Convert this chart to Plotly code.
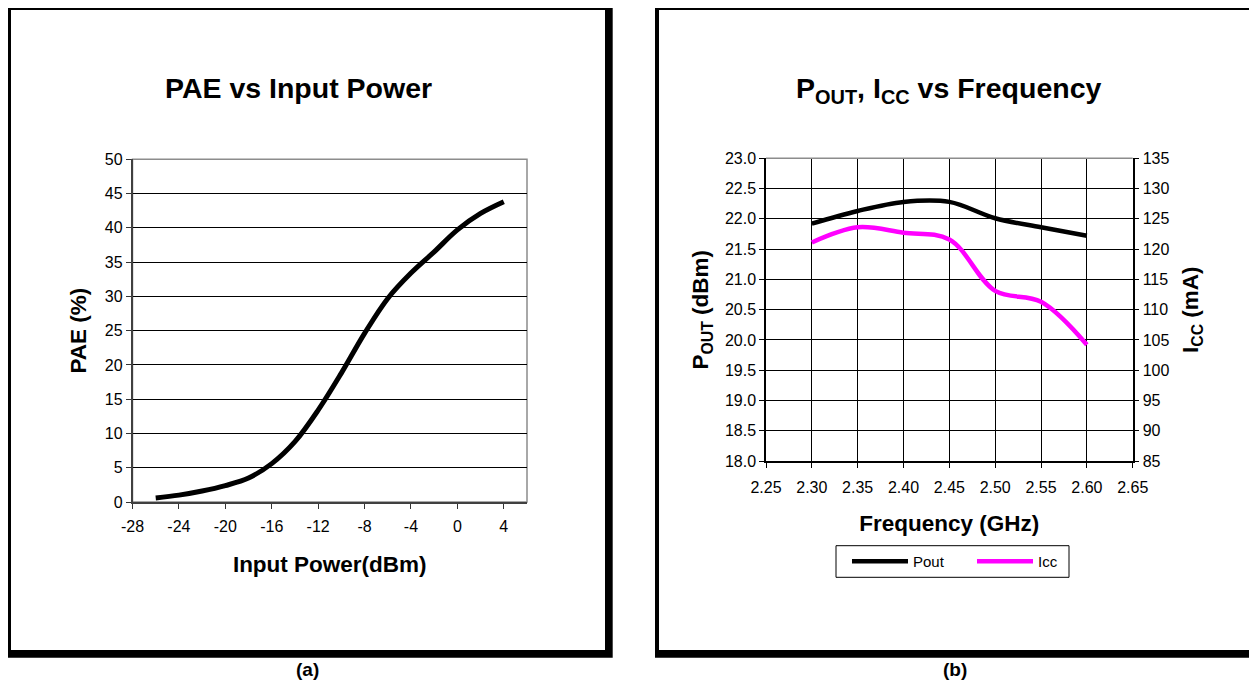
import plotly.graph_objects as go

# ---------------- data ----------------
pin_dbm = [-26, -24, -22, -20, -18, -16, -14, -12, -10, -8, -6, -4, -2, 0, 2, 4]
pae_pct = [0.6, 1.0, 1.6, 2.4, 3.5, 5.6, 8.8, 13.4, 18.8, 24.6, 29.7, 33.4, 36.5, 39.7, 42.1, 43.8]
pin_tick_vals = [-28, -24, -20, -16, -12, -8, -4, 0, 4]
pin_tick_text = ["-28", "-24", "-20", "-16", "-12", "-8", "-4", "0", "4"]

freq_ghz = [2.30, 2.35, 2.40, 2.45, 2.50, 2.55, 2.60]
pout_dbm = [21.92, 22.13, 22.28, 22.28, 22.01, 21.86, 21.72]
icc_ma = [121.1, 123.6, 122.7, 121.6, 113.1, 111.3, 104.2]

# page is shown with the browser's 8px body margin; positions below are in
# window pixels and are converted to figure paper fractions.
OFF = 8
W, H = 1257 - OFF, 685 - OFF
FONT = "Liberation Sans, Arial, sans-serif"


def px(x):
    return (x - OFF) / W


def py(y):
    return 1 - (y - OFF) / H


fig = go.Figure()

fig.add_trace(go.Scatter(
    x=pin_dbm, y=pae_pct, mode="lines", showlegend=False,
    line=dict(color="black", width=5, shape="spline", smoothing=1.0),
    xaxis="x", yaxis="y", name="PAE"))

fig.add_trace(go.Scatter(
    x=freq_ghz, y=pout_dbm, mode="lines", name="Pout",
    line=dict(color="black", width=4.5, shape="spline", smoothing=1.0),
    xaxis="x2", yaxis="y2"))

fig.add_trace(go.Scatter(
    x=freq_ghz, y=icc_ma, mode="lines", name="Icc",
    line=dict(color="#ff00ff", width=4.5, shape="spline", smoothing=1.0),
    xaxis="x2", yaxis="y3"))

tickfont = dict(family=FONT, size=16, color="black")
titlefont = dict(family=FONT, size=22.5, color="black")

shapes = []
# panel frames: black outer + white inner
for (x0, y0, x1, y1, ix0, iy0, ix1, iy1) in [
    (6.7, 6, 612.7, 657.7, 11, 10, 605, 650),
    (655, 6, 1262, 657.7, 659, 10, 1252.7, 650),
]:
    shapes.append(dict(type="rect", xref="paper", yref="paper",
                       x0=px(x0), x1=px(x1), y0=py(y1), y1=py(y0),
                       fillcolor="black", line=dict(width=0), layer="below"))
    shapes.append(dict(type="rect", xref="paper", yref="paper",
                       x0=px(ix0), x1=px(ix1), y0=py(iy1), y1=py(iy0),
                       fillcolor="white", line=dict(width=0), layer="below"))
# gray plot-area border of panel (a)
shapes.append(dict(type="rect", xref="x domain", yref="y domain",
                   x0=0, x1=1, y0=0, y1=1, fillcolor="rgba(0,0,0,0)",
                   line=dict(width=1.5, color="#8c8c8c"), layer="below"))
# gray top border of panel (b)
shapes.append(dict(type="line", xref="x2 domain", yref="y2 domain",
                   x0=0, x1=1, y0=1, y1=1,
                   line=dict(width=1.5, color="#8c8c8c"), layer="above"))
# legend box
shapes.append(dict(type="rect", xref="paper", yref="paper",
                   x0=px(836), x1=px(1069), y0=py(577.3), y1=py(545.7),
                   fillcolor="rgba(0,0,0,0)", line=dict(width=1, color="black"),
                   layer="above"))

annotations = [
    dict(text="<b>PAE vs Input Power</b>", x=px(298), y=py(88), xref="paper", yref="paper",
         showarrow=False, xanchor="center", yanchor="middle",
         font=dict(family=FONT, size=28.5, color="black")),
    dict(text="<b>P<sub>OUT</sub>, I<sub>CC</sub> vs Frequency</b>", x=px(948), y=py(90),
         xref="paper", yref="paper", showarrow=False, xanchor="center", yanchor="middle",
         font=dict(family=FONT, size=28.5, color="black")),
    dict(text="<b>(a)</b>", x=px(307), y=py(669), xref="paper", yref="paper",
         showarrow=False, xanchor="center", yanchor="middle",
         font=dict(family=FONT, size=19, color="black")),
    dict(text="<b>(b)</b>", x=px(955), y=py(669), xref="paper", yref="paper",
         showarrow=False, xanchor="center", yanchor="middle",
         font=dict(family=FONT, size=19, color="black")),
]

fig.update_layout(
    width=W, height=H, autosize=False,
    margin=dict(l=0, r=0, t=0, b=0, pad=0, autoexpand=False),
    paper_bgcolor="white", plot_bgcolor="white",
    font=dict(family=FONT, color="black"),
    shapes=shapes, annotations=annotations,
    xaxis=dict(domain=[px(132.5), px(527)], anchor="y",
               range=[-28, 6], tickvals=pin_tick_vals, ticktext=pin_tick_text,
               showgrid=False, zeroline=False,
               showline=True, linecolor="#404040", linewidth=1.5, mirror=False,
               ticks="outside", ticklen=5, tickcolor="#333333", tickfont=tickfont,
               ticklabelstandoff=4,
               title=dict(text="<b>Input Power(dBm)</b>", font=titlefont, standoff=22)),
    yaxis=dict(domain=[py(502), py(159.3)], anchor="x",
               range=[0, 50], dtick=5, showgrid=True, gridcolor="#000000", gridwidth=1,
               zeroline=False, showline=True, linecolor="#404040", linewidth=1.5, mirror=False,
               ticks="outside", ticklen=5, tickcolor="#333333", tickfont=tickfont,
               title=dict(text="<b>PAE (%)</b>", font=titlefont, standoff=12)),
    xaxis2=dict(domain=[px(766), px(1132.7)], anchor="y2",
                range=[2.25, 2.65], tick0=2.25, dtick=0.05, tickformat=".2f",
                showgrid=True, gridcolor="#000000", gridwidth=1, zeroline=False,
                showline=True, linecolor="#000000", linewidth=1.5, mirror=False,
                ticks="outside", ticklen=5, tickcolor="#000000", tickfont=tickfont,
                ticklabelstandoff=6,
                title=dict(text="<b>Frequency (GHz)</b>", font=titlefont, standoff=20)),
    yaxis2=dict(domain=[py(461), py(158.3)], anchor="x2",
                range=[18.0, 23.0], dtick=0.5, tickformat=".1f",
                showgrid=True, gridcolor="#000000", gridwidth=1, zeroline=False,
                showline=True, linecolor="#000000", linewidth=1.5,
                ticks="outside", ticklen=5, tickcolor="#000000", tickfont=tickfont,
                title=dict(text="<b>P<sub>OUT</sub> (dBm)</b>", font=titlefont, standoff=10)),
    yaxis3=dict(overlaying="y2", side="right", anchor="x2",
                range=[85, 135], dtick=5, showgrid=False, zeroline=False,
                showline=True, linecolor="#000000", linewidth=1.5,
                ticks="outside", ticklen=5, tickcolor="#000000", tickfont=tickfont,
                title=dict(text="<b>I<sub>CC</sub> (mA)</b>", font=titlefont, standoff=14)),
    legend=dict(orientation="h", x=px(847), y=py(561.5), xanchor="left", yanchor="middle",
                borderwidth=0, bgcolor="rgba(0,0,0,0)",
                font=dict(family=FONT, size=15, color="black"),
                itemwidth=56, entrywidth=54, tracegroupgap=0),
)

fig.write_html("out.html")
